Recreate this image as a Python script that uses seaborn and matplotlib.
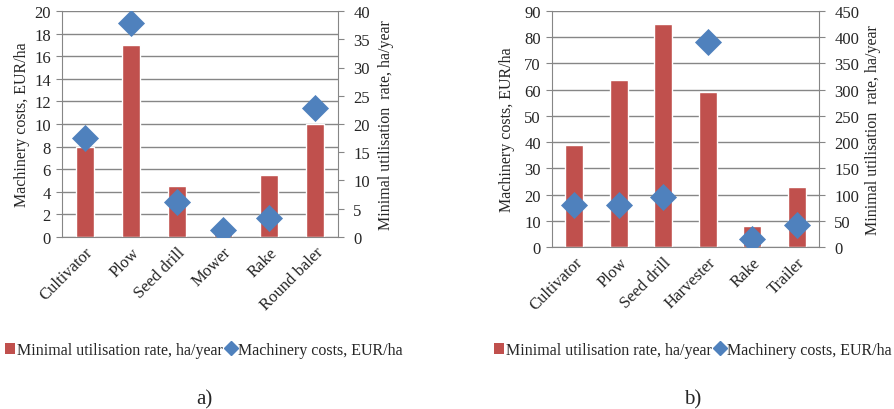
import matplotlib
matplotlib.use('Agg')
import matplotlib.pyplot as plt
import seaborn as sns
from matplotlib.patches import Patch
from matplotlib.lines import Line2D

# panel a)
machines_a = ['Cultivator', 'Plow', 'Seed drill', 'Mower', 'Rake', 'Round baler']
bars_a = [8.0, 17.0, 4.5, 0.4, 5.5, 10.0]          # left axis
diamonds_a = [17.6, 37.8, 6.2, 1.2, 3.4, 22.8]     # right axis

# panel b)
machines_b = ['Cultivator', 'Plow', 'Seed drill', 'Harvester', 'Rake', 'Trailer']
bars_b = [39, 63.5, 85, 59, 8, 23]
diamonds_b = [80, 80, 95, 390, 15, 42]

RED = '#C0504D'
BLUE = '#4F81BD'
GRID = '#868686'

sns.set_style('white')
plt.rcParams['font.family'] = ['Liberation Serif', 'DejaVu Serif']
plt.rcParams['font.size'] = 12


def draw_panel(fig, rect, cats, bars, diamonds, lmax, lstep, rmax, rstep, caption, leg_x, lpad, rpad):
    ax = fig.add_axes(rect)
    sns.barplot(x=cats, y=bars, ax=ax, color=RED, width=0.4, saturation=1)
    ax.set_ylim(0, lmax)
    ax.set_yticks(range(0, lmax + 1, lstep))
    ax.set_xlim(-0.5, len(cats) - 0.5)
    ax.yaxis.grid(True, color=GRID, linewidth=1)
    ax.set_axisbelow(True)
    for s in ['left', 'bottom', 'right']:
        ax.spines[s].set_color(GRID)
    ax.spines['top'].set_visible(False)
    ax.tick_params(axis='y', length=4, color=GRID, pad=4, labelsize=12)
    ax.set_xticks([i + 0.5 for i in range(-1, len(cats))], minor=True)
    ax.tick_params(axis='x', which='major', length=0, pad=5, labelsize=12)
    ax.tick_params(axis='x', which='minor', length=5, color=GRID)
    ax.set_xticks(range(len(cats)))
    ax.set_xticklabels(cats, rotation=45, ha='right', rotation_mode='anchor')
    ax.set_ylabel('Machinery costs, EUR/ha', labelpad=lpad, fontsize=11.5)

    ax2 = ax.twinx()
    sns.scatterplot(x=list(range(len(cats))), y=diamonds, ax=ax2, marker='D',
                    s=190, color=BLUE, edgecolor=BLUE, linewidth=0, zorder=5)
    ax2.set_ylim(0, rmax)
    ax2.set_yticks(range(0, rmax + 1, rstep))
    ax2.set_xlim(-0.5, len(cats) - 0.5)
    for s in ['left', 'bottom', 'right', 'top']:
        ax2.spines[s].set_visible(False)
    ax2.tick_params(axis='y', length=4, color=GRID, pad=7, labelsize=12)
    ax2.set_ylabel('Minimal utilisation  rate, ha/year', labelpad=rpad, fontsize=11.5)

    handles = [Patch(facecolor=RED, edgecolor='none'),
               Line2D([], [], marker='D', color=BLUE, linestyle='none', markersize=7)]
    fig.legend(handles, ['Minimal utilisation rate, ha/year', 'Machinery costs, EUR/ha'],
               loc='center', bbox_to_anchor=(leg_x, 1 - 351 / 410), ncol=2, frameon=False,
               handlelength=0.6, handletextpad=0.15, columnspacing=0.2, fontsize=11.5)
    fig.text(leg_x, 1 - 400 / 410, caption, ha='center', va='center', fontsize=15)


fig = plt.figure(figsize=(8.95, 4.10), dpi=100)
draw_panel(fig, [62 / 895, 1 - 238 / 410, 276 / 895, 226 / 410],
           machines_a, bars_a, diamonds_a, 20, 2, 40, 5, 'a)', 204 / 895, 3, 6)
draw_panel(fig, [552 / 895, 1 - 248 / 410, 267 / 895, 236 / 410],
           machines_b, bars_b, diamonds_b, 90, 10, 450, 50, 'b)', 693 / 895, 7, 4)

fig.savefig('out.png', dpi=100)
